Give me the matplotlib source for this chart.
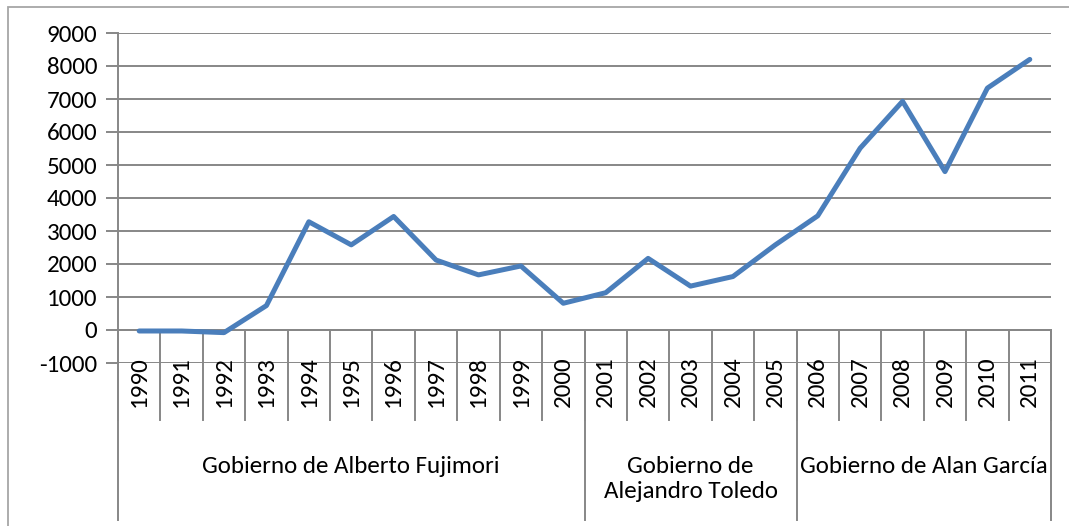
import matplotlib
matplotlib.use('Agg')
import matplotlib.pyplot as plt
from matplotlib.patches import Rectangle

# -- data
years = ['1990', '1991', '1992', '1993', '1994', '1995', '1996', '1997', '1998', '1999', '2000',
         '2001', '2002', '2003', '2004', '2005', '2006', '2007', '2008', '2009', '2010', '2011']
values = [-30, -30, -80, 740, 3280, 2580, 3440, 2120, 1670, 1940, 810,
          1130, 2170, 1330, 1620, 2580, 3460, 5510, 6930, 4800, 7330, 8200]
groups = ['Gobierno de Alberto Fujimori', 'Gobierno de\nAlejandro Toledo', 'Gobierno de Alan García']
group_sizes = [11, 5, 6]

plt.rcParams['font.family'] = ['Carlito', 'Liberation Sans Narrow', 'DejaVu Sans']
plt.rcParams['axes.unicode_minus'] = False
grey = '#878787'
fs = 18

fig = plt.figure(figsize=(10.69, 5.26), dpi=100)
ax = fig.add_axes([118 / 1069, 1 - 363 / 526, (1051 - 118) / 1069, 330 / 526])

# outer chart border
fig.patches.append(Rectangle((8 / 1069, -0.1), 1.2, 1 - 7 / 526 + 0.1, transform=fig.transFigure,
                             fill=False, edgecolor='#a6a6a6', linewidth=1.3))

x = list(range(len(years)))
ax.plot(x, values, color='#4A7EBB', linewidth=3.6, solid_capstyle='round', solid_joinstyle='round',
        zorder=3)

ax.set_xlim(-0.5, len(years) - 0.5)
ax.set_ylim(-1000, 9000)
ax.set_yticks(range(-1000, 9001, 1000))
ax.yaxis.grid(True, color=grey, linewidth=1.4)
ax.set_axisbelow(True)
ax.tick_params(axis='y', length=9, width=1.4, color=grey, labelsize=fs, pad=6)
ax.set_xticks([])
for s in ['top', 'right', 'bottom']:
    ax.spines[s].set_visible(False)
ax.spines['left'].set_color(grey)
ax.spines['left'].set_linewidth(1.4)

# category axis at zero
ax.axhline(0, color=grey, linewidth=1.4, zorder=2)

trans = ax.get_xaxis_transform()
y0 = 0.1
year_bottom = (363 - 420) / 330
group_bottom = (363 - 520) / 330

# year separators and labels
for i in range(len(years) + 1):
    ax.plot([i - 0.5, i - 0.5], [y0, year_bottom], transform=trans, color=grey,
            linewidth=1.4, clip_on=False)
for i, yr in enumerate(years):
    ax.text(i, (363 - 356) / 330, yr, transform=trans, rotation=90, ha='center', va='top',
            fontsize=fs)

# group separators and labels
start = 0
for g, n in zip(groups, group_sizes):
    ax.plot([start - 0.5, start - 0.5], [y0, group_bottom], transform=trans, color=grey,
            linewidth=1.4, clip_on=False)
    ypos = (363 - 479) / 330 if '\n' in g else (363 - 467) / 330
    ax.text(start + (n - 1) / 2, ypos, g, transform=trans, ha='center', va='center',
            fontsize=fs, linespacing=1.2)
    start += n
ax.plot([start - 0.5, start - 0.5], [y0, group_bottom], transform=trans, color=grey,
        linewidth=1.4, clip_on=False)

fig.savefig('out.png', dpi=100)
